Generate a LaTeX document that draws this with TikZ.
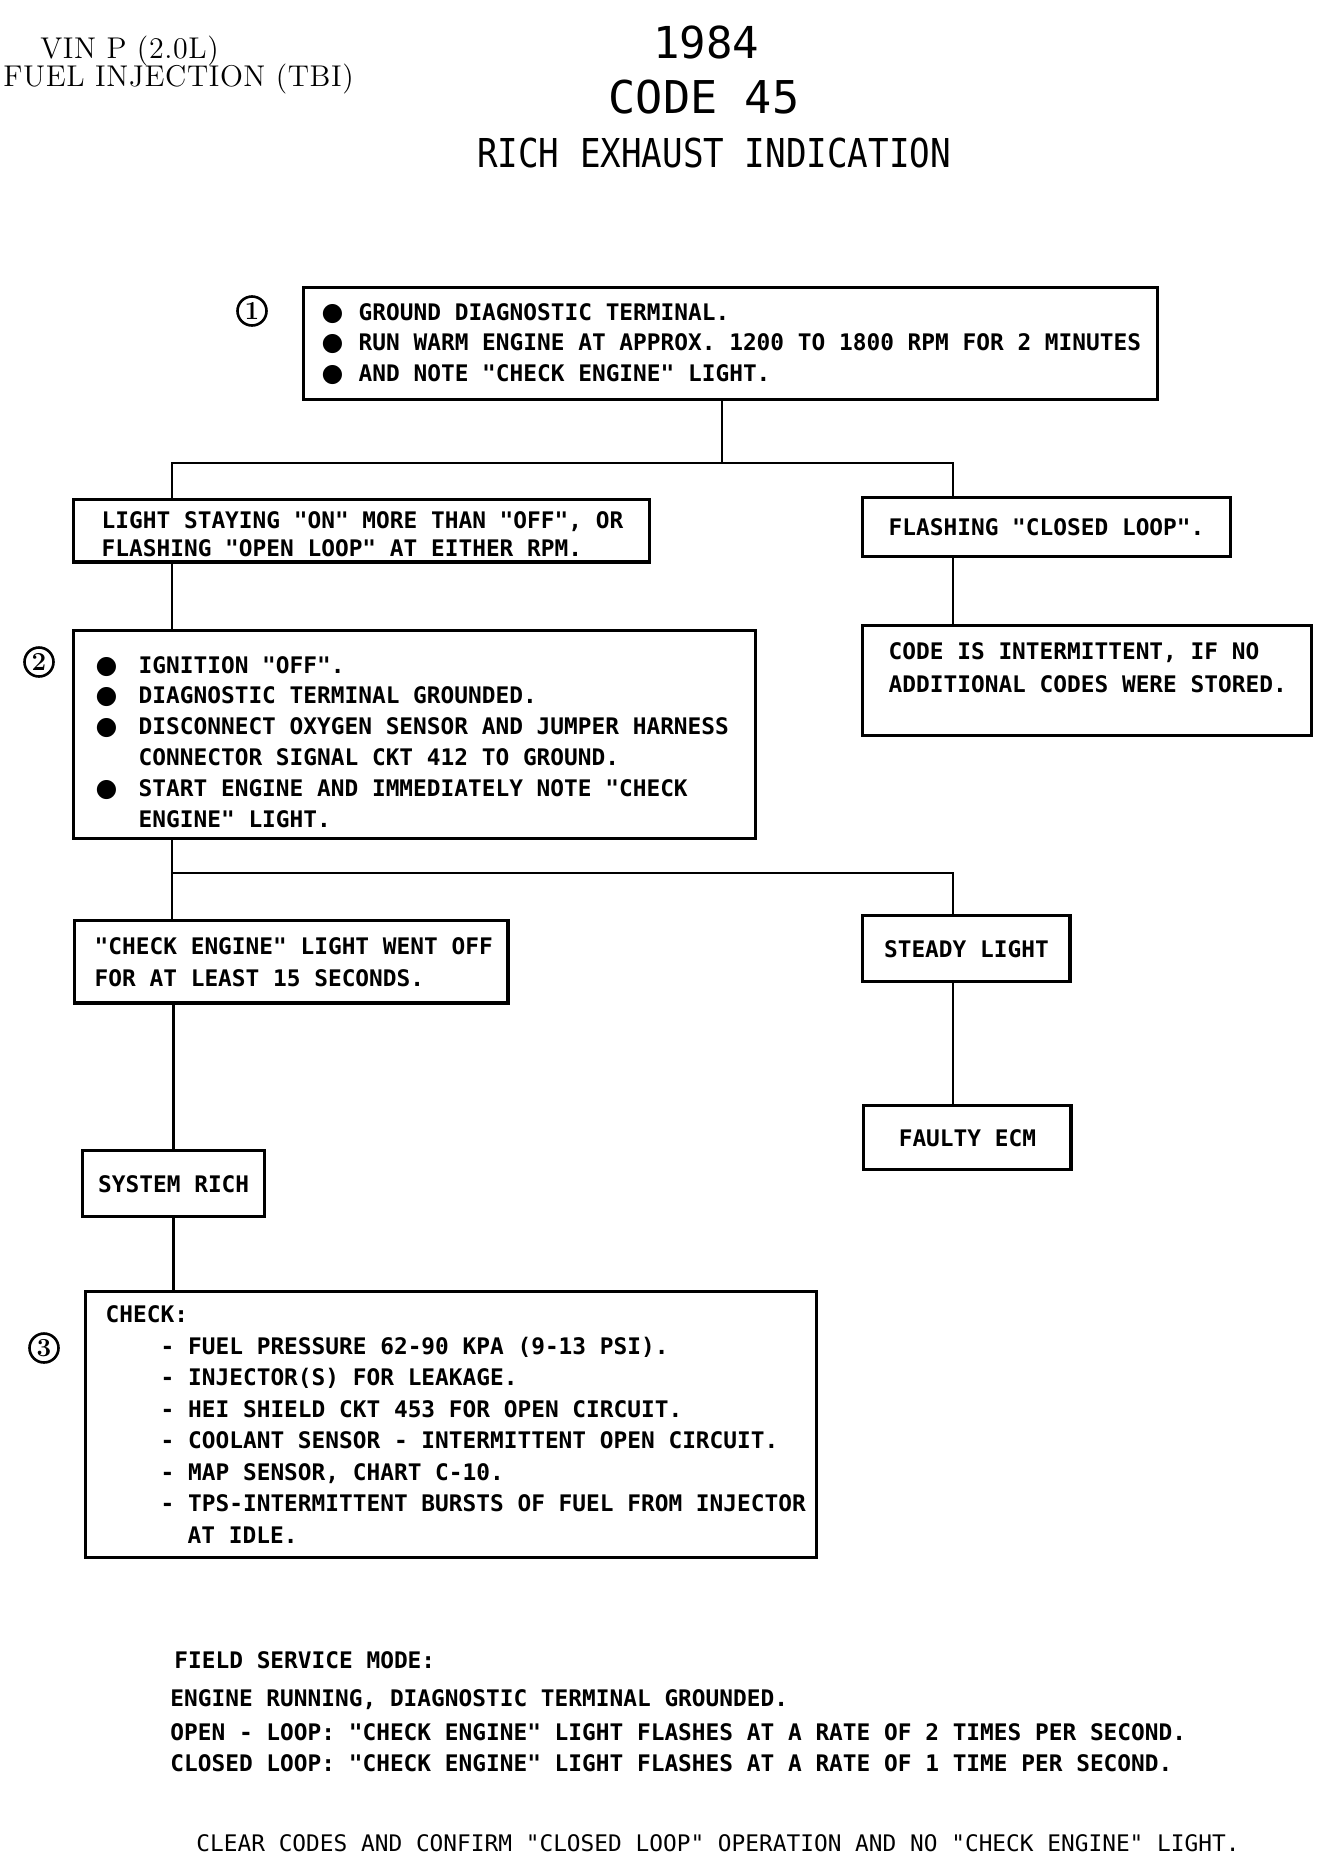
\documentclass[tikz,border=0pt]{standalone}
\usepackage{fontspec}
\usepackage{tikz}
\usetikzlibrary{positioning}
\newfontfamily\plotfont[Ligatures=TeXOff]{DejaVu Sans Mono}
\newfontfamily\narrowplot[Ligatures=TeXOff,FakeStretch=0.86]{DejaVu Sans Mono}
\newfontfamily\symfont{DejaVu Sans}
\newfontfamily\hdrfont[LetterSpace=2]{lmroman12-regular.otf}
\newcommand\monosp{\spaceskip=0pt\xspaceskip=0pt\relax}
\newcommand\bul[2]{\hspace*{#1}\makebox[#2][l]{{\symfont\fontsize{12.5pt}{12.5pt}\selectfont ●}}}
\tikzset{
  stepbox/.style={draw, line width=1.7pt, anchor=north west, inner xsep=0pt, inner ysep=0pt, align=left,
    font=\plotfont\bfseries\fontsize{11.4pt}{#1}\selectfont},
  stepbox/.default=14pt,
  cbox/.style={stepbox, align=center},
  link/.style={line width=1.4pt},
  num/.style={circle, draw, line width=1.3pt, inner sep=0pt, minimum size=14.5pt, font=\bfseries\fontsize{13pt}{13pt}\selectfont},
  plain/.style={anchor=base west, inner sep=0pt, font=\plotfont\bfseries\fontsize{11.4pt}{14pt}\selectfont}
}
\begin{document}
\begin{tikzpicture}[x=0.5pt,y=-0.5pt]
\useasboundingbox (0,0) rectangle (1328,1858);

\node[anchor=base west, inner sep=0pt, font=\hdrfont\fontsize{15pt}{17pt}\selectfont] (vin) at (40,58) {VIN P (2.0L)};
\node[anchor=base west, inner sep=0pt, font=\hdrfont\fontsize{15pt}{17pt}\selectfont] (tbi) at (3,86) {FUEL INJECTION (TBI)};
\node[anchor=base, inner sep=0pt, font=\plotfont\fontsize{22pt}{24pt}\selectfont] (year) at (706,58) {1984};
\node[anchor=base, inner sep=0pt, font=\plotfont\fontsize{22.6pt}{24pt}\selectfont] (code) at (704,113) {CODE 45};
\node[anchor=base, inner sep=0pt, font=\narrowplot\fontsize{19.9pt}{22pt}\selectfont] (title) at (714,167) {RICH EXHAUST INDICATION};

\node[stepbox=15.3pt, text width=427pt, minimum height=56pt] (step1) at (302,286)
  {\monosp\bul{9pt}{18.5pt}GROUND DIAGNOSTIC TERMINAL.\\
   \bul{9pt}{18.5pt}RUN WARM ENGINE AT APPROX. 1200 TO 1800 RPM FOR 2 MINUTES\\
   \bul{9pt}{18.5pt}AND NOTE "CHECK ENGINE" LIGHT.};
\node[num] (n1) at (252,311) {1};

\node[stepbox=14.2pt, text width=288pt, minimum height=31.2pt, text height=12pt] (ls) at (72,498)
  {\monosp\hspace*{14pt}LIGHT STAYING "ON" MORE THAN "OFF", OR\\
   \hspace*{14pt}FLASHING "OPEN LOOP" AT EITHER RPM.};
\node[stepbox, text width=184pt, minimum height=29.5pt] (flash) at (861,496)
  {\monosp\hspace*{13pt}FLASHING "CLOSED LOOP".};
\node[stepbox=16.3pt, text width=224.5pt, minimum height=55pt] (intermit) at (861,624)
  {\monosp\hspace*{13pt}CODE IS INTERMITTENT, IF NO\\
   \hspace*{13pt}ADDITIONAL CODES WERE STORED.\\[-3.3pt]\mbox{}};

\node[stepbox=15.4pt, text width=341pt, minimum height=104pt, text height=15.5pt] (step2) at (72,629)
  {\monosp\bul{11pt}{21.5pt}IGNITION "OFF".\\
   \bul{11pt}{21.5pt}DIAGNOSTIC TERMINAL GROUNDED.\\
   \bul{11pt}{21.5pt}DISCONNECT OXYGEN SENSOR AND JUMPER HARNESS\\
   \hspace*{32.5pt}CONNECTOR SIGNAL CKT 412 TO GROUND.\\
   \bul{11pt}{21.5pt}START ENGINE AND IMMEDIATELY NOTE "CHECK\\
   \hspace*{32.5pt}ENGINE" LIGHT.};
\node[num] (n2) at (39,662) {2};

\node[stepbox=16.2pt, text width=216.7pt, minimum height=41.2pt] (light) at (73,919)
  {\monosp\hspace*{10pt}"CHECK ENGINE" LIGHT WENT OFF\\
   \hspace*{10pt}FOR AT LEAST 15 SECONDS.};
\node[cbox, minimum width=103.7pt, minimum height=33pt] (steady) at (861,914) {\monosp STEADY LIGHT};
\node[cbox, minimum width=103.7pt, minimum height=32pt] (faulty) at (862,1104) {\monosp FAULTY ECM};
\node[cbox, minimum width=91pt, minimum height=33pt] (rich) at (81,1149) {\monosp SYSTEM RICH};

\node[stepbox=15.75pt, text width=365.5pt, minimum height=133pt] (step3) at (84,1290)
  {\monosp\hspace*{10pt}CHECK:\\
   \hspace*{37.5pt}- FUEL PRESSURE 62-90 KPA (9-13 PSI).\\
   \hspace*{37.5pt}- INJECTOR(S) FOR LEAKAGE.\\
   \hspace*{37.5pt}- HEI SHIELD CKT 453 FOR OPEN CIRCUIT.\\
   \hspace*{37.5pt}- COOLANT SENSOR - INTERMITTENT OPEN CIRCUIT.\\
   \hspace*{37.5pt}- MAP SENSOR, CHART C-10.\\
   \hspace*{37.5pt}- TPS-INTERMITTENT BURSTS OF FUEL FROM INJECTOR\\
   \hspace*{51pt}AT IDLE.};
\node[num] (n3) at (44,1348) {3};

\coordinate (j1) at (722,463);
\coordinate (j1l) at (172,463);
\coordinate (j1r) at (953,463);
\coordinate (j2l) at (172,873);
\coordinate (j2r) at (953,873);

\draw[link] (step1.south -| j1) -- (j1);
\draw[link] (ls.north -| j1l) -- (j1l) -- (j1r) -- (flash.north -| j1r);
\draw[link] (ls.south -| j1l) -- (step2.north -| j1l);
\draw[link] (flash.south -| j1r) -- (intermit.north -| j1r);
\draw[link] (step2.south -| j2l) -- (j2l) -- (j2r) -- (steady.north -| j2r);
\draw[link] (j2l) -- (light.north -| j2l);
\draw[link] (light.south -| rich.north) -- (rich.north);
\draw[link] (rich.south) -- (rich.south |- step3.north);
\draw[link] (steady.south -| j2r) -- (faulty.north -| j2r);

\node[plain] (fsm) at (174,1668) {FIELD SERVICE MODE:};
\node[plain] (fsm1) at (170,1706) {ENGINE RUNNING, DIAGNOSTIC TERMINAL GROUNDED.};
\node[plain] (fsm2) at (170,1740) {OPEN - LOOP: "CHECK ENGINE" LIGHT FLASHES AT A RATE OF 2 TIMES PER SECOND.};
\node[plain] (fsm3) at (170,1771) {CLOSED LOOP: "CHECK ENGINE" LIGHT FLASHES AT A RATE OF 1 TIME PER SECOND.};
\node[plain, font=\plotfont\fontsize{11.4pt}{14pt}\selectfont] (clear) at (196,1851) {CLEAR CODES AND CONFIRM "CLOSED LOOP" OPERATION AND NO "CHECK ENGINE" LIGHT.};
\end{tikzpicture}
\end{document}
